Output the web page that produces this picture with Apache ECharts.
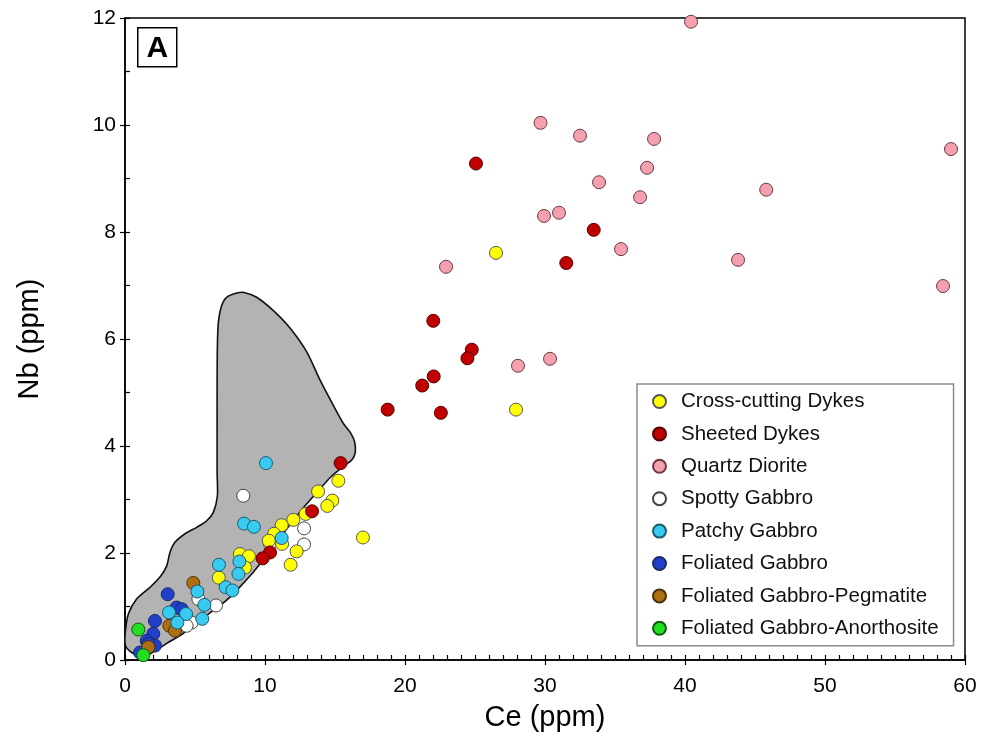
<!DOCTYPE html>
<html>
<head>
<meta charset="utf-8">
<title>Nb vs Ce</title>
<script src="https://cdn.jsdelivr.net/npm/echarts@6/dist/echarts.min.js"></script>
<style>
  html, body { margin: 0; padding: 0; background: #fff; }
  #chart { width: 985px; height: 738px; }
</style>
</head>
<body>
<div id="chart"></div>
<script>
// Ce / Nb (ppm) for each rock group
const crossCuttingCe = [15.24, 13.79, 14.81, 14.45, 12.9, 12.02, 11.19, 10.65, 10.27, 11.22, 12.26, 11.83, 17.0, 8.21, 8.85, 8.57, 6.7, 26.5, 27.93];
const crossCuttingNb = [3.35, 3.15, 2.98, 2.88, 2.73, 2.62, 2.52, 2.36, 2.23, 2.17, 2.03, 1.78, 2.29, 1.98, 1.94, 1.73, 1.54, 7.61, 4.68];

const sheetedCe = [25.07, 33.48, 31.52, 22.02, 24.77, 24.46, 22.05, 21.23, 18.76, 22.56, 15.4, 13.36, 10.36, 9.83];
const sheetedNb = [9.28, 8.04, 7.42, 6.34, 5.80, 5.64, 5.30, 5.13, 4.68, 4.62, 3.68, 2.78, 2.01, 1.90];

const quartzDioriteCe = [40.43, 29.68, 32.5, 37.79, 59.0, 37.29, 33.86, 36.79, 45.8, 29.93, 31.0, 35.43, 22.93, 43.79, 58.43, 30.36, 28.07];
const quartzDioriteNb = [11.93, 10.04, 9.80, 9.74, 9.55, 9.20, 8.93, 8.65, 8.79, 8.30, 8.36, 7.68, 7.35, 7.48, 6.99, 5.63, 5.50];

const spottyCe = [8.45, 12.79, 12.79, 10.36, 6.5, 5.24, 4.76, 4.4];
const spottyNb = [3.07, 2.46, 2.16, 2.17, 1.02, 1.14, 0.70, 0.64];

const patchyCe = [10.07, 8.5, 9.21, 11.19, 6.71, 8.17, 8.1, 7.19, 7.67, 5.17, 5.67, 3.14, 4.36, 3.74, 5.52];
const patchyNb = [3.68, 2.55, 2.49, 2.28, 1.78, 1.84, 1.61, 1.36, 1.30, 1.28, 1.03, 0.89, 0.86, 0.70, 0.77];

const foliatedCe = [3.05, 3.69, 4.05, 2.14, 2.02, 1.55, 2.14, 1.07, 1.67];
const foliatedNb = [1.23, 0.98, 0.95, 0.73, 0.49, 0.36, 0.27, 0.14, 0.30];

const pegmatiteCe = [4.88, 3.17, 3.57, 1.67];
const pegmatiteNb = [1.44, 0.64, 0.55, 0.24];

const anorthositeCe = [0.95, 1.31];
const anorthositeNb = [0.57, 0.09];

// Outline of the shaded reference field (Ce, Nb)
const fieldCe = [8.0, 7.26, 6.9, 6.67, 6.6, 6.58, 6.58, 6.58, 6.6, 6.31, 5.83, 5.12, 4.29, 3.57, 3.21, 2.98, 2.5, 1.79, 0.83, 0.24, 0.02, 0.03, 0.48, 1.07,
  1.55, 2.98, 4.17, 5.36, 6.55, 7.6, 8.4, 9.1, 9.8, 10.6, 11.55, 12.6, 13.7, 14.7, 15.6, 16.2, 16.45,
  16.4, 16.1, 15.6, 14.9, 13.9, 13.0, 11.8, 10.6, 9.4, 8.5];
const fieldNb = [6.86, 6.78, 6.62, 6.31, 5.87, 5.2, 4.3, 3.5, 3.07, 2.76, 2.60, 2.48, 2.36, 2.2, 2.01, 1.76, 1.55, 1.36, 1.14, 0.86, 0.52, 0.27, 0.14, 0.09,
  0.08, 0.31, 0.5, 0.75, 0.97, 1.2, 1.42, 1.62, 1.85, 2.1, 2.45, 2.8, 3.13, 3.42, 3.62, 3.74, 3.88,
  4.08, 4.25, 4.42, 4.75, 5.25, 5.75, 6.2, 6.53, 6.78, 6.87];

// Axis ranges and tick steps
const ceRange = [0, 60];
const nbRange = [0, 12];
const ceStep = 10;
const nbStep = 2;

const FONT = 'Liberation Sans, Arial, sans-serif';

function pairs(xs, ys) { return xs.map((x, i) => [x, ys[i]]); }

function scatter(name, xs, ys, color, border, z) {
  return {
    name: name,
    type: 'scatter',
    data: pairs(xs, ys),
    symbol: 'circle',
    symbolSize: 13,
    z: z,
    itemStyle: { color: color, borderColor: border, borderWidth: 1, opacity: 1 },
    emphasis: { disabled: true }
  };
}

const legendOrder = ['Cross-cutting Dykes', 'Sheeted Dykes', 'Quartz Diorite', 'Spotty Gabbro',
  'Patchy Gabbro', 'Foliated Gabbro', 'Foliated Gabbro-Pegmatite', 'Foliated Gabbro-Anorthosite'];

const chart = echarts.init(document.getElementById('chart'), null, { renderer: 'canvas' });

const axisLine = { show: true, onZero: false, lineStyle: { color: '#000', width: 1.5 } };

chart.setOption({
  animation: false,
  backgroundColor: '#fff',
  grid: { left: 125, right: 20, top: 18, bottom: 78, show: true, borderColor: '#000', borderWidth: 1.5, backgroundColor: 'transparent' },
  xAxis: [
    {
      type: 'value', min: ceRange[0], max: ceRange[1], interval: ceStep,
      name: 'Ce (ppm)', nameLocation: 'middle', nameGap: 43,
      nameTextStyle: { fontFamily: FONT, fontSize: 29, color: '#000' },
      axisLine: axisLine,
      axisTick: { show: true, inside: false, length: 5, lineStyle: { color: '#000', width: 1.2 } },
      axisLabel: { fontFamily: FONT, fontSize: 21, color: '#000', margin: 16 },
      splitLine: { show: false }
    },
    {
      type: 'value', min: ceRange[0], max: ceRange[1], interval: 1, position: 'bottom',
      axisLine: { show: false, onZero: false },
      axisTick: { show: true, inside: true, length: 5, lineStyle: { color: '#000', width: 1.2 } },
      axisLabel: { show: false }, splitLine: { show: false }
    }
  ],
  yAxis: [
    {
      type: 'value', min: nbRange[0], max: nbRange[1], interval: nbStep,
      name: 'Nb (ppm)', nameLocation: 'middle', nameGap: 81,
      nameTextStyle: { fontFamily: FONT, fontSize: 29, color: '#000' },
      axisLine: axisLine,
      axisTick: { show: true, inside: false, length: 5, lineStyle: { color: '#000', width: 1.2 } },
      axisLabel: { fontFamily: FONT, fontSize: 21, color: '#000', margin: 9 },
      splitLine: { show: false }
    },
    {
      type: 'value', min: nbRange[0], max: nbRange[1], interval: 1, position: 'left',
      axisLine: { show: false, onZero: false },
      axisTick: { show: true, inside: true, length: 5, lineStyle: { color: '#000', width: 1.2 } },
      axisLabel: { show: false }, splitLine: { show: false }
    }
  ],
  legend: {
    data: legendOrder,
    orient: 'vertical',
    left: 637, top: 384,
    padding: [7, 15, 7, 15],
    itemWidth: 13, itemHeight: 13, itemGap: 11.4,
    icon: 'circle',
    backgroundColor: '#fff',
    borderColor: '#8c8c8c', borderWidth: 1.5,
    textStyle: { fontFamily: FONT, fontSize: 20.5, color: '#111', lineHeight: 20, padding: [0, 0, 0, 10] },
    selectedMode: false
  },
  graphic: [
    {
      type: 'group', left: 137, top: 27, z: 20,
      children: [
        { type: 'rect', shape: { x: 0, y: 0, width: 39, height: 39 }, style: { fill: '#fff', stroke: '#000', lineWidth: 1.5 } },
        { type: 'text', x: 19.5, y: 20.5, style: { text: 'A', font: 'bold 30px ' + FONT, fill: '#000', align: 'center', verticalAlign: 'middle' } }
      ]
    }
  ],
  series: [
    {
      name: 'field',
      type: 'custom',
      z: 1,
      silent: true,
      data: pairs(fieldCe, fieldNb),
      renderItem: function (params, api) {
        if (params.dataIndex !== 0) return null;
        const pts = fieldCe.map((c, i) => api.coord([c, fieldNb[i]]));
        return {
          type: 'polygon',
          shape: { points: pts, smooth: 0.25 },
          style: { fill: '#b3b3b3', stroke: '#111', lineWidth: 1.6 }
        };
      }
    },
    scatter('Spotty Gabbro', spottyCe, spottyNb, '#ffffff', '#444', 3),
    scatter('Cross-cutting Dykes', crossCuttingCe, crossCuttingNb, '#ffff00', '#555', 4),
    scatter('Sheeted Dykes', sheetedCe, sheetedNb, '#c00000', '#5a0000', 5),
    scatter('Quartz Diorite', quartzDioriteCe, quartzDioriteNb, '#f4a0ae', '#6a3a44', 5),
    scatter('Foliated Gabbro', foliatedCe, foliatedNb, '#2040cc', '#1a2a66', 6),
    scatter('Foliated Gabbro-Pegmatite', pegmatiteCe, pegmatiteNb, '#ae6f12', '#4a3208', 7),
    scatter('Foliated Gabbro-Anorthosite', anorthositeCe, anorthositeNb, '#22dd22', '#105a10', 8),
    scatter('Patchy Gabbro', patchyCe, patchyNb, '#38caf0', '#1d5a6c', 9)
  ]
});
</script>
</body>
</html>
